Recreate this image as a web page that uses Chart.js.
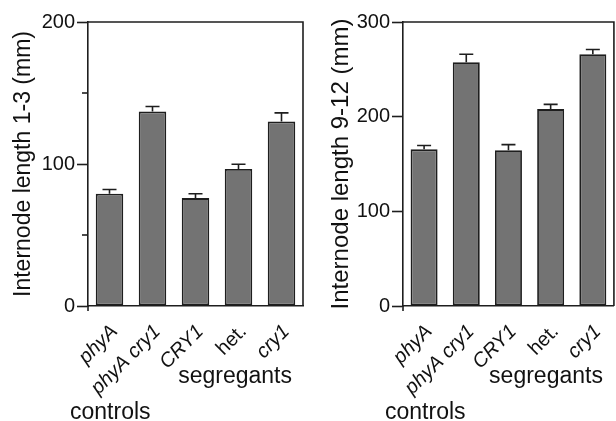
<!DOCTYPE html>
<html>
<head>
<meta charset="utf-8">
<script src="https://cdn.jsdelivr.net/npm/chart.js@4"></script>
<style>
  html, body { margin: 0; padding: 0; background: #ffffff; }
  #wrap { position: relative; width: 616px; height: 421px; overflow: hidden; }
  #c1 { position: absolute; left: 0; top: 0; }
  #c2 { position: absolute; left: 308px; top: 0; }
</style>
</head>
<body>
<div id="wrap">
  <canvas id="c1" width="308" height="421"></canvas>
  <canvas id="c2" width="308" height="421"></canvas>
</div>
<script>
// ---- data ----
const categories = ['phyA', 'phyA cry1', 'CRY1', 'het.', 'cry1'];
const italicLabels = [true, true, true, false, true];

const leftValues = [79, 137, 76, 96.5, 130];
const leftErrors = [3, 3.5, 3, 3.3, 6];
const leftTicks = [0, 100, 200];
const leftMinorTicks = [50, 150];
const leftTitle = 'Internode length 1-3 (mm)';

const rightValues = [165.5, 257.5, 164.5, 208, 266];
const rightErrors = [4, 8.5, 6, 5, 5];
const rightTicks = [0, 100, 200, 300];
const rightMinorTicks = [];
const rightTitle = 'Internode length 9-12 (mm)';

const groupLabelRight = 'segregants';
const groupLabelLeft = 'controls';

// ---- styles ----
const FONT = '"Liberation Sans", Arial, Helvetica, sans-serif';
const INK = '#1e1e1e';
const BAR = '#737373';

const extrasPlugin = {
  id: 'extras',
  afterDatasetsDraw(chart, args, opts) {
    const ctx = chart.ctx;
    const y = chart.scales.y;
    const meta = chart.getDatasetMeta(0);
    ctx.save();
    ctx.strokeStyle = INK;
    ctx.lineWidth = 1.6;
    // error bars (upper only)
    opts.values.forEach((v, i) => {
      const bar = meta.data[i];
      const x = bar.x;
      const y0 = y.getPixelForValue(v);
      const y1 = y.getPixelForValue(v + opts.errors[i]);
      ctx.beginPath();
      ctx.moveTo(x, y0);
      ctx.lineTo(x, y1);
      ctx.moveTo(x - 7, y1);
      ctx.lineTo(x + 7, y1);
      ctx.stroke();
    });
    ctx.restore();
  },
  afterDraw(chart, args, opts) {
    const ctx = chart.ctx;
    const a = chart.chartArea;
    const y = chart.scales.y;
    ctx.save();
    ctx.strokeStyle = INK;
    ctx.lineWidth = 1.6;
    // frame (top and right sides)
    ctx.beginPath();
    ctx.moveTo(a.left, a.top);
    ctx.lineTo(a.right, a.top);
    ctx.lineTo(a.right, a.bottom);
    ctx.stroke();
    // small extension of the y axis below zero
    ctx.beginPath();
    ctx.moveTo(a.left, a.bottom);
    ctx.lineTo(a.left, a.bottom + 5);
    ctx.stroke();
    // minor ticks
    opts.minor.forEach(v => {
      const py = y.getPixelForValue(v);
      ctx.beginPath();
      ctx.moveTo(a.left - 6, py);
      ctx.lineTo(a.left, py);
      ctx.stroke();
    });
    // group labels
    ctx.fillStyle = '#111';
    ctx.font = '23px ' + FONT;
    ctx.textBaseline = 'alphabetic';
    ctx.textAlign = 'right';
    ctx.fillText(groupLabelRight, a.right - 11, a.bottom + 77);
    ctx.textAlign = 'left';
    ctx.fillText(groupLabelLeft, a.left - 18, a.bottom + 113);
    ctx.restore();
  }
};

function makeChart(id, values, errors, ticks, minor, title, opt) {
  return new Chart(document.getElementById(id), {
    type: 'bar',
    data: {
      labels: categories,
      datasets: [{
        data: values,
        backgroundColor: BAR,
        borderColor: INK,
        borderWidth: 1.8,
        borderSkipped: false,
        categoryPercentage: 1.0,
        barPercentage: 0.64
      }]
    },
    plugins: [extrasPlugin],
    options: {
      responsive: false,
      devicePixelRatio: 1,
      animation: false,
      layout: { padding: { left: 0, right: opt.padRight, top: 22, bottom: 0 } },
      plugins: {
        legend: { display: false },
        tooltip: { enabled: false },
        extras: { values: values, errors: errors, minor: minor }
      },
      scales: {
        x: {
          grid: { display: false },
          border: { display: true, color: INK, width: 1.6 },
          ticks: {
            color: '#111',
            autoSkip: false,
            minRotation: 45,
            maxRotation: 45,
            padding: 6,
            labelOffset: 5,
            font: (c) => ({ family: FONT, size: 20, style: italicLabels[c.index] ? 'italic' : 'normal' })
          },
          afterFit: (s) => { s.height = 115; }
        },
        y: {
          min: ticks[0],
          max: ticks[ticks.length - 1],
          afterBuildTicks: (s) => { s.ticks = ticks.map(v => ({ value: v })); },
          grid: { drawOnChartArea: false, drawTicks: true, tickLength: 11, tickColor: INK, tickWidth: 1.6 },
          border: { display: true, color: INK, width: 1.6 },
          ticks: {
            color: '#111',
            padding: opt.tickPad,
            font: { family: FONT, size: opt.tickSize }
          },
          title: {
            display: true,
            text: title,
            color: '#111',
            font: { family: FONT, size: opt.titleSize },
            padding: { top: opt.titlePad, bottom: 0 }
          },
          afterFit: (s) => { s.width = opt.axisWidth; }
        }
      }
    }
  });
}

makeChart('c1', leftValues, leftErrors, leftTicks, leftMinorTicks, leftTitle,
  { padRight: 5, axisWidth: 88, tickPad: 2, tickSize: 20, titleSize: 23, titlePad: 10 });
makeChart('c2', rightValues, rightErrors, rightTicks, rightMinorTicks, rightTitle,
  { padRight: 2, axisWidth: 95, tickPad: 2, tickSize: 20, titleSize: 24, titlePad: 19 });
</script>
</body>
</html>
